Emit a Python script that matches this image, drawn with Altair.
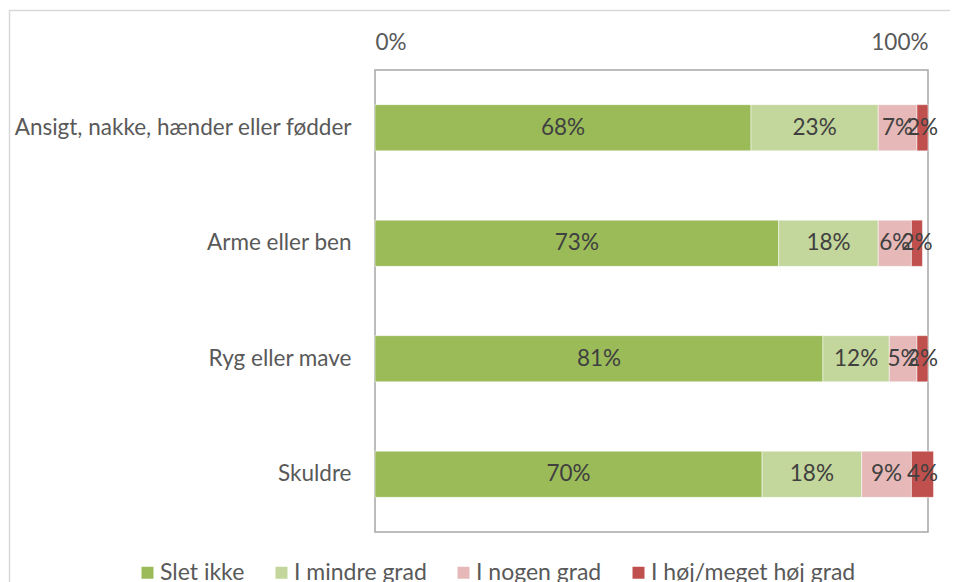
import altair as alt
import pandas as pd

categories = ["Ansigt, nakke, hænder eller fødder", "Arme eller ben", "Ryg eller mave", "Skuldre"]
series = ["Slet ikke", "I mindre grad", "I nogen grad", "I høj/meget høj grad"]
slet_ikke = [68, 73, 81, 70]
i_mindre_grad = [23, 18, 12, 18]
i_nogen_grad = [7, 6, 5, 9]
i_hoej_grad = [2, 2, 2, 4]
colors = ["#9BBB59", "#C3D69B", "#E6B9B8", "#C0504D"]

rows = []
for s_i, (s, vals) in enumerate(zip(series, [slet_ikke, i_mindre_grad, i_nogen_grad, i_hoej_grad])):
    for c, v in zip(categories, vals):
        rows.append({"cat": c, "series": s, "order": s_i, "value": v / 100})
df = pd.DataFrame(rows)

FONT = "Lato"
FS = 22.5

base = alt.Chart(df).transform_stack(
    stack="value", groupby=["cat"], as_=["v0", "v1"],
    sort=[alt.SortField("order", order="ascending")]
).transform_calculate(mid="(datum.v0 + datum.v1) / 2")

y = alt.Y("cat:N", sort=categories, title=None,
          scale=alt.Scale(paddingInner=0.6, paddingOuter=0.3),
          axis=alt.Axis(domain=False, ticks=False, labelPadding=24, labelFontSize=FS,
                        labelColor="#595959", labelFont=FONT, labelLimit=0))

xscale = alt.Scale(domain=[0, 1], nice=False, zero=False)

bars = base.mark_bar(stroke="white", strokeWidth=0.5).encode(
    x=alt.X("v0:Q", scale=xscale, title=None,
            axis=alt.Axis(orient="top", values=[0, 1], format=".0%", domain=False, ticks=False,
                          grid=False, labelPadding=16, labelFontSize=FS, labelColor="#595959",
                          labelFont=FONT)),
    x2="v1:Q",
    y=y,
    color=alt.Color("series:N", sort=series,
                    scale=alt.Scale(domain=series, range=colors),
                    legend=alt.Legend(orient="none", legendX=-239, legendY=491,
                                      direction="horizontal", title=None, symbolType="square",
                                      symbolSize=144, symbolStrokeWidth=0, labelFontSize=23,
                                      labelColor="#595959", labelFont=FONT, columnPadding=25,
                                      labelOffset=1, labelLimit=0)),
)

text = base.mark_text(fontSize=FS, color="#404040", font=FONT).encode(
    x=alt.X("mid:Q", scale=xscale),
    y=y,
    text=alt.Text("value:Q", format=".0%"),
)

frame = alt.Chart(pd.DataFrame({"a": [0]})).mark_rect(
    fill=None, stroke="#d9d9d9", strokeWidth=1.5
).encode(
    x=alt.value(-365.5), x2=alt.value(640), y=alt.value(-59.5), y2=alt.value(600)
)

chart = alt.layer(frame, bars, text).properties(
    width=553, height=462,
    autosize=alt.AutoSizeParams(type="none"),
    padding={"left": 367, "top": 62, "right": 22, "bottom": 50},
).configure_view(stroke="#a6a6a6", strokeWidth=1.5)

chart.save("out.html", embed_options={"renderer": "svg", "actions": False})
